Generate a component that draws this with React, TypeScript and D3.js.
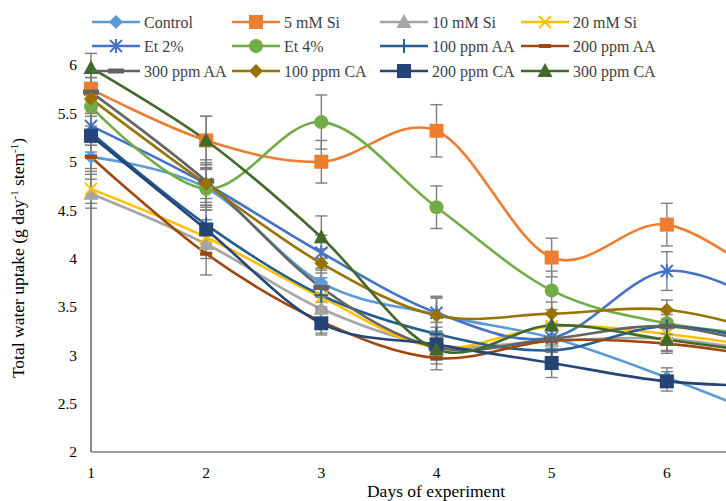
import React from 'react'
import * as d3 from 'd3'

// days of experiment
const days = [1, 2, 3, 4, 5, 6, 7]
const xTicks = [1, 2, 3, 4, 5, 6]
const yTicks = [2, 2.5, 3, 3.5, 4, 4.5, 5, 5.5, 6]

const seriesNames = [
  'Control', '5 mM Si', '10 mM Si', '20 mM Si',
  'Et 2%', 'Et 4%', '100 ppm AA', '200 ppm AA',
  '300 ppm AA', '100 ppm CA', '200 ppm CA', '300 ppm CA',
]

const control = [5.05, 4.73, 3.75, 3.42, 3.18, 2.77, 2.3]
const si5 = [5.75, 5.22, 5.0, 5.32, 4.01, 4.35, 3.65]
const si10 = [4.67, 4.15, 3.48, 3.1, 3.15, 3.17, 3.0]
const si20 = [4.72, 4.22, 3.6, 3.08, 3.3, 3.22, 3.05]
const et2 = [5.37, 4.77, 4.06, 3.44, 3.18, 3.87, 3.45]
const et4 = [5.57, 4.72, 5.41, 4.53, 3.67, 3.33, 3.2]
const aa100 = [5.3, 4.35, 3.62, 3.22, 3.05, 3.3, 3.1]
const aa200 = [5.05, 4.05, 3.35, 2.97, 3.15, 3.12, 2.95]
const aa300 = [5.72, 4.8, 3.7, 3.08, 3.17, 3.3, 3.05]
const ca100 = [5.65, 4.77, 3.95, 3.41, 3.43, 3.47, 3.2]
const ca200 = [5.27, 4.3, 3.33, 3.11, 2.92, 2.73, 2.68]
const ca300 = [5.97, 5.22, 4.22, 3.06, 3.31, 3.16, 3.0]

// standard errors
const controlErr = [0.12, 0.2, 0.15, 0.18, 0.12, 0.1, 0.12]
const si5Err = [0.12, 0.25, 0.22, 0.27, 0.2, 0.22, 0.2]
const si10Err = [0.15, 0.15, 0.12, 0.15, 0.12, 0.12, 0.12]
const si20Err = [0.15, 0.18, 0.12, 0.12, 0.12, 0.1, 0.1]
const et2Err = [0.2, 0.22, 0.18, 0.15, 0.15, 0.2, 0.15]
const et4Err = [0.2, 0.22, 0.28, 0.22, 0.2, 0.15, 0.15]
const aa100Err = [0.2, 0.2, 0.12, 0.12, 0.1, 0.15, 0.12]
const aa200Err = [0.15, 0.22, 0.12, 0.12, 0.1, 0.1, 0.1]
const aa300Err = [0.15, 0.22, 0.15, 0.1, 0.1, 0.12, 0.1]
const ca100Err = [0.15, 0.15, 0.15, 0.2, 0.12, 0.1, 0.12]
const ca200Err = [0.2, 0.2, 0.12, 0.12, 0.15, 0.1, 0.1]
const ca300Err = [0.15, 0.25, 0.22, 0.15, 0.12, 0.12, 0.12]

const values = [control, si5, si10, si20, et2, et4, aa100, aa200, aa300, ca100, ca200, ca300]
const errors = [controlErr, si5Err, si10Err, si20Err, et2Err, et4Err, aa100Err, aa200Err, aa300Err, ca100Err, ca200Err, ca300Err]

const colors = [
  '#5B9BD5', '#ED7D31', '#A5A5A5', '#FFC000',
  '#4472C4', '#70AD47', '#255E91', '#9E480E',
  '#636363', '#997300', '#264478', '#43682B',
]
const markers = [
  'diamond', 'square', 'triangle', 'x',
  'star', 'circle', 'plus', 'dash',
  'longdash', 'diamond', 'square', 'triangle',
]

const W = 726
const H = 501
const serif = { fontFamily: "'Liberation Serif', 'Times New Roman', serif" }

const Marker = ({ type, x, y, color }: { type: string; x: number; y: number; color: string }) => {
  const s = 7
  switch (type) {
    case 'diamond':
      return <path d={`M${x},${y - s}L${x + s},${y}L${x},${y + s}L${x - s},${y}Z`} fill={color} />
    case 'square':
      return <rect x={x - 7} y={y - 7} width={14} height={14} fill={color} />
    case 'triangle':
      return <path d={`M${x},${y - 8}L${x + 7.5},${y + 6}L${x - 7.5},${y + 6}Z`} fill={color} />
    case 'circle':
      return <circle cx={x} cy={y} r={7} fill={color} />
    case 'x':
      return (
        <g stroke={color} strokeWidth={2}>
          <line x1={x - 6} y1={y - 6} x2={x + 6} y2={y + 6} />
          <line x1={x - 6} y1={y + 6} x2={x + 6} y2={y - 6} />
        </g>
      )
    case 'star':
      return (
        <g stroke={color} strokeWidth={2}>
          <line x1={x - 6} y1={y - 6} x2={x + 6} y2={y + 6} />
          <line x1={x - 6} y1={y + 6} x2={x + 6} y2={y - 6} />
          <line x1={x} y1={y - 7} x2={x} y2={y + 7} />
        </g>
      )
    case 'plus':
      return (
        <g stroke={color} strokeWidth={2}>
          <line x1={x - 7} y1={y} x2={x + 7} y2={y} />
          <line x1={x} y1={y - 7} x2={x} y2={y + 7} />
        </g>
      )
    case 'dash':
      return <rect x={x - 6} y={y - 2} width={12} height={4} fill={color} />
    case 'longdash':
      return <rect x={x - 8} y={y - 2.5} width={16} height={5} fill={color} />
    default:
      return null
  }
}

export default function App() {
  const margin = { left: 91, top: 65, bottom: 452 }
  const x = d3.scaleLinear().domain([1, 7]).range([margin.left, 782])
  const y = d3.scaleLinear().domain([2, 6]).range([margin.bottom, margin.top])

  const line = d3.line<number>()
    .x((d, i) => x(days[i]))
    .y(d => y(d))
    .curve(d3.curveCardinal.tension(0))

  const legendCols = [92, 232, 380, 521]
  const legendRows = [22, 46, 71]

  return (
    <svg width={W} height={H} style={{ position: 'absolute', left: 0, top: 0, background: '#fff' }}>
      {/* axes */}
      <line x1={x(1)} y1={y(2)} x2={W} y2={y(2)} stroke="#404040" strokeWidth={1.2} />
      <line x1={x(1)} y1={y(2)} x2={x(1)} y2={y(6)} stroke="#404040" strokeWidth={1.2} />
      {yTicks.map(t => (
        <text key={t} x={77} y={y(t)} dy="0.35em" textAnchor="end" fontSize={15.5} fill="#000" style={serif}>{t}</text>
      ))}
      {xTicks.map(t => (
        <text key={t} x={x(t)} y={478} textAnchor="middle" fontSize={15.5} fill="#000" style={serif}>{t}</text>
      ))}
      <text x={436} y={497} textAnchor="middle" fontSize={17.5} fill="#000" style={serif}>Days of experiment</text>
      <text transform={`translate(24,258) rotate(-90)`} textAnchor="middle" fontSize={17.5} fill="#000" style={serif}>
        Total water uptake (g day<tspan dy={-6} fontSize={11}>-1</tspan><tspan dy={6}> stem</tspan><tspan dy={-6} fontSize={11}>-1</tspan><tspan dy={6}>)</tspan>
      </text>

      {/* lines */}
      {values.map((vals, si) => (
        <path key={si} d={line(vals) || ''} fill="none" stroke={colors[si]} strokeWidth={2.6} />
      ))}

      {/* error bars */}
      {values.map((vals, si) => (
        <g key={si} stroke="#7F7F7F" strokeWidth={1.4}>
          {vals.map((v, i) => {
            const cx = x(days[i])
            const e = errors[si][i]
            return (
              <g key={i}>
                <line x1={cx} x2={cx} y1={y(v - e)} y2={y(v + e)} />
                <line x1={cx - 6} x2={cx + 6} y1={y(v - e)} y2={y(v - e)} />
                <line x1={cx - 6} x2={cx + 6} y1={y(v + e)} y2={y(v + e)} />
              </g>
            )
          })}
        </g>
      ))}

      {/* markers */}
      {values.map((vals, si) => (
        <g key={si}>
          {vals.map((v, i) => (
            <Marker key={i} type={markers[si]} x={x(days[i])} y={y(v)} color={colors[si]} />
          ))}
        </g>
      ))}

      {/* legend */}
      {seriesNames.map((name, i) => {
        const lx = legendCols[i % 4]
        const ly = legendRows[Math.floor(i / 4)]
        return (
          <g key={name}>
            <line x1={lx} x2={lx + 48} y1={ly} y2={ly} stroke={colors[i]} strokeWidth={2.6} />
            <Marker type={markers[i]} x={lx + 24} y={ly} color={colors[i]} />
            <text x={lx + 52} y={ly} dy="0.35em" fontSize={16} fill="#404040" style={serif}>{name}</text>
          </g>
        )
      })}
    </svg>
  )
}
